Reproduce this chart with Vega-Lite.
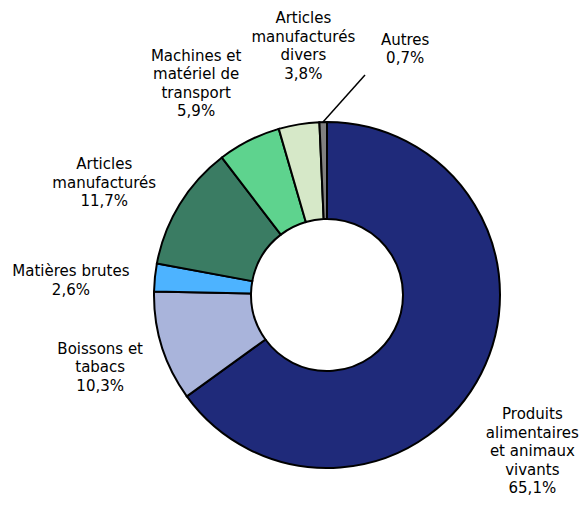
{
  "$schema": "https://vega.github.io/schema/vega-lite/v6.json",
  "autosize": "none",
  "padding": {"left": 69, "top": 79, "right": 0, "bottom": 0},
  "width": 516,
  "height": 432,
  "background": "white",
  "config": {"view": {"stroke": null}, "font": "DejaVu Sans"},
  "data": {
    "values": [
      {"k": 1, "categorie": "Produits alimentaires et animaux vivants", "label": "Produits\nalimentaires\net animaux\nvivants\n65,1%", "part": 65.1},
      {"k": 2, "categorie": "Boissons et tabacs", "label": "Boissons et\ntabacs\n10,3%", "part": 10.3},
      {"k": 3, "categorie": "Matières brutes", "label": "Matières brutes\n2,6%", "part": 2.6},
      {"k": 4, "categorie": "Articles manufacturés", "label": "Articles\nmanufacturés\n11,7%", "part": 11.7},
      {"k": 5, "categorie": "Machines et matériel de transport", "label": "Machines et\nmatériel de\ntransport\n5,9%", "part": 5.9},
      {"k": 6, "categorie": "Articles manufacturés divers", "label": "Articles\nmanufacturés\ndivers\n3,8%", "part": 3.8},
      {"k": 7, "categorie": "Autres", "label": "Autres\n0,7%", "part": 0.7}
    ]
  },
  "layer": [
    {
      "mark": {"type": "arc", "outerRadius": 173, "innerRadius": 76, "stroke": "black", "strokeWidth": 2},
      "encoding": {
        "theta": {"field": "part", "type": "quantitative", "stack": true},
        "order": {"field": "k", "type": "quantitative"},
        "color": {
          "field": "categorie",
          "type": "nominal",
          "legend": null,
          "scale": {
            "domain": ["Produits alimentaires et animaux vivants", "Boissons et tabacs", "Matières brutes", "Articles manufacturés", "Machines et matériel de transport", "Articles manufacturés divers", "Autres"],
            "range": ["#1F2A7A", "#A9B4DB", "#4DB3FF", "#3A7C63", "#5ED38E", "#D6E8C8", "#808080"]
          }
        }
      }
    },
    {
      "transform": [{"filter": "datum.k === 7"}],
      "mark": {"type": "rule", "stroke": "black", "strokeWidth": 1.5},
      "encoding": {
        "x": {"value": {"expr": "width/2 - 4"}},
        "y": {"value": {"expr": "height/2 - 173"}},
        "x2": {"value": {"expr": "width/2 + 38"}},
        "y2": {"value": {"expr": "height/2 - 220"}}
      }
    },
    {
      "encoding": {
        "theta": {"field": "part", "type": "quantitative", "stack": true},
        "order": {"field": "k", "type": "quantitative"},
        "detail": {"field": "categorie"}
      },
      "layer": [
        {
          "mark": {"type": "text", "radius": 237.5, "thetaOffset": 0.054, "lineBreak": "\n", "fontSize": 15, "lineHeight": 18.5, "align": "center", "baseline": "middle", "color": "black"},
          "encoding": {"text": {"condition": {"test": "datum.k === 1", "field": "label"}, "value": ""}}
        },
        {
          "mark": {"type": "text", "radius": 233.1, "thetaOffset": 0.070, "lineBreak": "\n", "fontSize": 15, "lineHeight": 18.5, "align": "center", "baseline": "middle", "color": "black"},
          "encoding": {"text": {"condition": {"test": "datum.k === 2", "field": "label"}, "value": ""}}
        },
        {
          "mark": {"type": "text", "radius": 257.2, "thetaOffset": -0.009, "lineBreak": "\n", "fontSize": 15, "lineHeight": 18.5, "align": "center", "baseline": "middle", "color": "black"},
          "encoding": {"text": {"condition": {"test": "datum.k === 3", "field": "label"}, "value": ""}}
        },
        {
          "mark": {"type": "text", "radius": 258.3, "thetaOffset": -0.020, "lineBreak": "\n", "fontSize": 15, "lineHeight": 18.5, "align": "center", "baseline": "middle", "color": "black"},
          "encoding": {"text": {"condition": {"test": "datum.k === 4", "field": "label"}, "value": ""}}
        },
        {
          "mark": {"type": "text", "radius": 272.7, "thetaOffset": -0.033, "lineBreak": "\n", "fontSize": 15, "lineHeight": 18.5, "align": "center", "baseline": "middle", "color": "black"},
          "encoding": {"text": {"condition": {"test": "datum.k === 5", "field": "label"}, "value": ""}}
        },
        {
          "mark": {"type": "text", "radius": 277.9, "thetaOffset": 0.078, "lineBreak": "\n", "fontSize": 15, "lineHeight": 18.5, "align": "center", "baseline": "middle", "color": "black"},
          "encoding": {"text": {"condition": {"test": "datum.k === 6", "field": "label"}, "value": ""}}
        },
        {
          "mark": {"type": "text", "radius": 267, "thetaOffset": 0.319, "lineBreak": "\n", "fontSize": 15, "lineHeight": 18.5, "align": "center", "baseline": "middle", "color": "black"},
          "encoding": {"text": {"condition": {"test": "datum.k === 7", "field": "label"}, "value": ""}}
        }
      ]
    }
  ]
}
